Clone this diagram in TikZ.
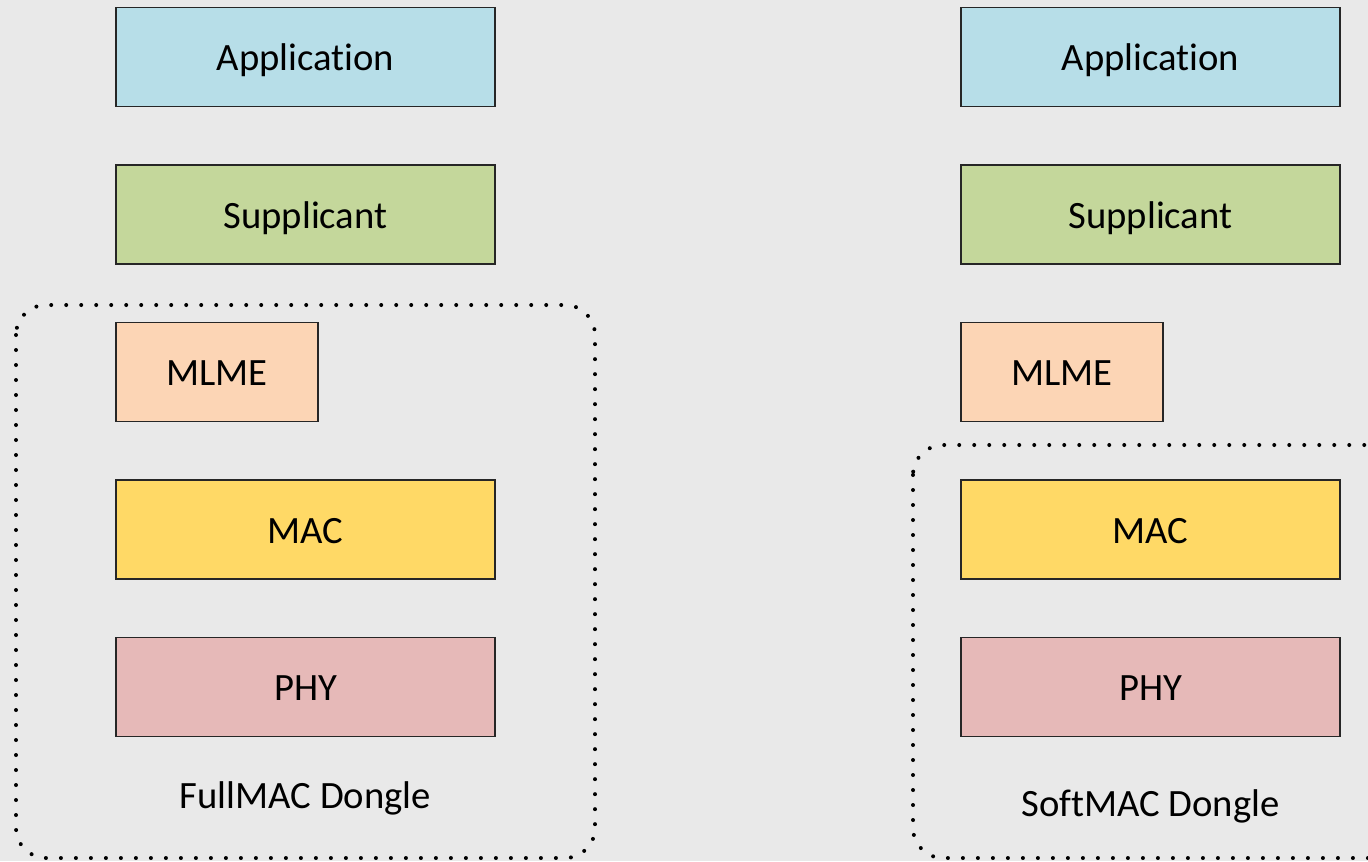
\documentclass[tikz,border=0pt]{standalone}
\usepackage{fontspec}
\setmainfont{Carlito}[Ligatures=NoCommon]
\usepackage{xcolor}
\usepackage{tikz}
\usetikzlibrary{positioning}

\definecolor{paper}{RGB}{233,233,233}
\definecolor{appblue}{RGB}{183,222,232}
\definecolor{supgreen}{RGB}{196,215,155}
\definecolor{mlmeorange}{RGB}{252,213,181}
\definecolor{macyellow}{RGB}{255,217,102}
\definecolor{phyred}{RGB}{230,185,184}

\begin{document}
\begin{tikzpicture}[
    node distance=1.17cm,
    layer/.style={rectangle, draw=black!85, line width=0.6pt, outer sep=0pt,
                  minimum width=7.58cm, minimum height=1.98cm, align=center,
                  text height=15.5pt, text depth=0pt,
                  font=\fontsize{22}{26}\selectfont},
    small/.style={layer, minimum width=4.04cm},
    dongle/.style={line width=0.08cm, line cap=round, dash pattern=on 0pt off 0.3cm,
                   rounded corners=0.6cm},
    caption/.style={inner sep=0pt, font=\fontsize{22}{26}\selectfont}
]
% background
\fill[paper] (0,0) rectangle (27.36,-17.22);
\useasboundingbox (0,0) rectangle (27.36,-17.22);
\clip (0,0) rectangle (27.36,-17.22);

% FullMAC stack
\node[layer, fill=appblue] (appL) at (6.11,-1.14) {Application};
\node[layer, fill=supgreen, below=of appL] (supL) {Supplicant};
\node[small, fill=mlmeorange, below right=1.17cm and 0cm of supL.south west] (mlmeL) {MLME};
\node[layer, fill=macyellow, below right=1.17cm and 0cm of mlmeL.south west] (macL) {MAC};
\node[layer, fill=phyred, below=of macL] (phyL) {PHY};
\node[caption, below=0.9cm of phyL] (fullL) {FullMAC Dongle};

% SoftMAC stack
\node[layer, fill=appblue] (appR) at (23.01,-1.14) {Application};
\node[layer, fill=supgreen, below=of appR] (supR) {Supplicant};
\node[small, fill=mlmeorange, below right=1.17cm and 0cm of supR.south west] (mlmeR) {MLME};
\node[layer, fill=macyellow, below right=1.17cm and 0cm of mlmeR.south west] (macR) {MAC};
\node[layer, fill=phyred, below=of macR] (phyR) {PHY};
\node[caption, below=1.06cm of phyR] (softR) {SoftMAC Dongle};

% dongle borders
\draw[dongle] (0.32,-6.1) rectangle (11.9,-17.16);
\draw[dongle] (18.26,-8.9) rectangle (28.4,-17.16);
\end{tikzpicture}
\end{document}
